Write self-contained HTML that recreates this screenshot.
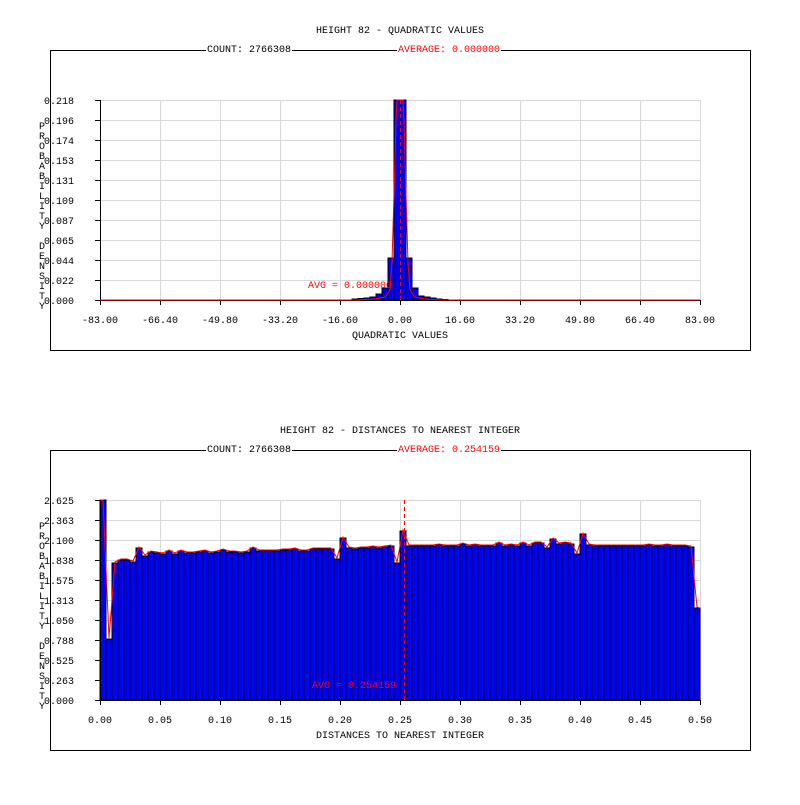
<!DOCTYPE html>
<html><head><meta charset="utf-8"><style>
body{margin:0;background:#fff}
svg text{font-family:"Liberation Mono",monospace;font-size:10px}
</style></head><body>
<svg id="s" width="800" height="800" xmlns="http://www.w3.org/2000/svg">
<rect width="800" height="800" fill="#fff"/>
<rect x="50.5" y="50.5" width="700" height="300" fill="none" stroke="#000"/>
<rect x="50.5" y="450.5" width="700" height="300" fill="none" stroke="#000"/>
<g id="grid" stroke="#d8d8d8" stroke-width="1"></g>
<g id="bars"></g>
<g id="ax" stroke="#000"></g>
<g id="red" fill="none" stroke="#f00"></g>
<line x1="400.5" y1="100" x2="400.5" y2="300" stroke="#f00" stroke-dasharray="4,3"/>
<line x1="404.5" y1="500" x2="404.5" y2="700" stroke="#f00" stroke-dasharray="4,3"/>
<rect x="206" y="44" width="86" height="10" fill="#fff"/>
<rect x="397" y="44" width="104" height="10" fill="#fff"/>
<rect x="206" y="444" width="86" height="10" fill="#fff"/>
<rect x="397" y="444" width="104" height="10" fill="#fff"/>
<text x="400" y="33" text-anchor="middle">HEIGHT 82 - QUADRATIC VALUES</text>
<text x="207" y="52">COUNT: 2766308</text>
<text x="398" y="52" fill="#f00">AVERAGE: 0.000000</text>
<text x="308" y="288" fill="#f00">AVG = 0.000000</text>
<text x="400" y="338" text-anchor="middle">QUADRATIC VALUES</text>
<text x="400" y="433" text-anchor="middle">HEIGHT 82 - DISTANCES TO NEAREST INTEGER</text>
<text x="207" y="452">COUNT: 2766308</text>
<text x="398" y="452" fill="#f00">AVERAGE: 0.254159</text>
<text x="312" y="688" fill="#f00">AVG = 0.254159</text>
<text x="400" y="738" text-anchor="middle">DISTANCES TO NEAREST INTEGER</text>
<g text-anchor="end">
<text x="74" y="104">0.218</text><text x="74" y="124">0.196</text><text x="74" y="144">0.174</text><text x="74" y="164">0.153</text><text x="74" y="184">0.131</text><text x="74" y="204">0.109</text><text x="74" y="224">0.087</text><text x="74" y="244">0.065</text><text x="74" y="264">0.044</text><text x="74" y="284">0.022</text><text x="74" y="304">0.000</text>
<text x="74" y="504">2.625</text><text x="74" y="524">2.363</text><text x="74" y="544">2.100</text><text x="74" y="564">1.838</text><text x="74" y="584">1.575</text><text x="74" y="604">1.313</text><text x="74" y="624">1.050</text><text x="74" y="644">0.788</text><text x="74" y="664">0.525</text><text x="74" y="684">0.263</text><text x="74" y="704">0.000</text>
</g>
<g text-anchor="middle">
<text x="100" y="323">-83.00</text><text x="160" y="323">-66.40</text><text x="220" y="323">-49.80</text><text x="280" y="323">-33.20</text><text x="340" y="323">-16.60</text><text x="400" y="323">0.00</text><text x="460" y="323">16.60</text><text x="520" y="323">33.20</text><text x="580" y="323">49.80</text><text x="640" y="323">66.40</text><text x="700" y="323">83.00</text>
<text x="100" y="723">0.00</text><text x="160" y="723">0.05</text><text x="220" y="723">0.10</text><text x="280" y="723">0.15</text><text x="340" y="723">0.20</text><text x="400" y="723">0.25</text><text x="460" y="723">0.30</text><text x="520" y="723">0.35</text><text x="580" y="723">0.40</text><text x="640" y="723">0.45</text><text x="700" y="723">0.50</text>
</g>
<g text-anchor="middle" font-size="9">
<text x="42" y="129">P</text><text x="42" y="139">R</text><text x="42" y="149">O</text><text x="42" y="159">B</text><text x="42" y="169">A</text><text x="42" y="179">B</text><text x="42" y="189">I</text><text x="42" y="199">L</text><text x="42" y="209">I</text><text x="42" y="219">T</text><text x="42" y="229">Y</text>
<text x="42" y="249">D</text><text x="42" y="259">E</text><text x="42" y="269">N</text><text x="42" y="279">S</text><text x="42" y="289">I</text><text x="42" y="299">T</text><text x="42" y="309">Y</text>
<text x="42" y="529">P</text><text x="42" y="539">R</text><text x="42" y="549">O</text><text x="42" y="559">B</text><text x="42" y="569">A</text><text x="42" y="579">B</text><text x="42" y="589">I</text><text x="42" y="599">L</text><text x="42" y="609">I</text><text x="42" y="619">T</text><text x="42" y="629">Y</text>
<text x="42" y="649">D</text><text x="42" y="659">E</text><text x="42" y="669">N</text><text x="42" y="679">S</text><text x="42" y="689">I</text><text x="42" y="699">T</text><text x="42" y="709">Y</text>
</g>
</svg>
<script>
(function(){
var NS="http://www.w3.org/2000/svg";
function el(p,t,a){var e=document.createElementNS(NS,t);for(var k in a)e.setAttribute(k,a[k]);document.getElementById(p).appendChild(e);return e;}
[100,500].forEach(function(y0){
 for(var i=0;i<=10;i++){
  var x=100+60*i+0.5, y=y0+20*i+0.5;
  if(i<10)el("grid","line",{x1:100,y1:y,x2:700,y2:y});
  if(i>0)el("grid","line",{x1:x,y1:y0,x2:x,y2:y0+200});
  el("ax","line",{x1:95,y1:y,x2:100,y2:y});
  el("ax","line",{x1:x,y1:y0+200,x2:x,y2:y0+205});
 }
 el("ax","line",{x1:100.5,y1:y0,x2:100.5,y2:y0+200});
 el("ax","line",{x1:100,y1:y0+200.5,x2:700,y2:y0+200.5});
});
var tb=[[-8,299],[-7,298.5],[-6,298],[-5,297],[-4,294],[-3,288],[-2,258],[-1,100],[0,100],[1,258],[2,288],[3,296],[4,297],[5,298],[6,299],[7,299.5]];
tb.forEach(function(p){var x=400+6*p[0];el("bars","rect",{x:x,y:p[1],width:6,height:300-p[1],fill:"#00f",stroke:"#000","stroke-width":1});});
el("red","path",{d:"M100 300 L360 300 L375 299 L385 297 L390 290 L392 262 L394 195 L396 120 L397 100 L403 100 L404 120 L406 195 L408 262 L410 290 L415 297 L425 299 L440 300 L700 300"});
var b=[];for(var i=0;i<100;i++)b.push(i<50?553:546);
var ov={0:500,1:639,2:563,3:560,4:560,5:562,6:548,7:556,8:552,9:553,10:554,11:551,12:554,13:551,14:553,15:553,16:552,17:551,18:553,19:552,20:550,21:552,22:552,23:553,24:552,25:548,26:551,27:551,28:551,29:551,30:550,31:550,32:549,33:551,34:551,35:549,36:549,37:549,38:549,39:559,40:538,41:548,42:549,43:548,44:548,45:547,46:548,47:547,48:546,49:563,50:531,51:546,56:545,60:544,62:545,66:543,67:546,68:545,70:543,72:543,73:543,74:548,75:539,76:544,77:543,78:544,79:554,80:534,81:545,91:545,94:545,96:546,97:546,98:547,99:608};
for(var k in ov)b[k]=ov[k];
var pts=[];
for(var i=0;i<100;i++){el("bars","rect",{x:100+6*i,y:b[i],width:6,height:700-b[i],fill:"#00f",stroke:"#000","stroke-width":1});
 pts.push((100+6*i+3)+","+(i==0?500:b[i]-1));}
el("red","polyline",{points:"100,500 "+pts.join(" ")+" 700,608"});
})();
</script>
</body></html>
